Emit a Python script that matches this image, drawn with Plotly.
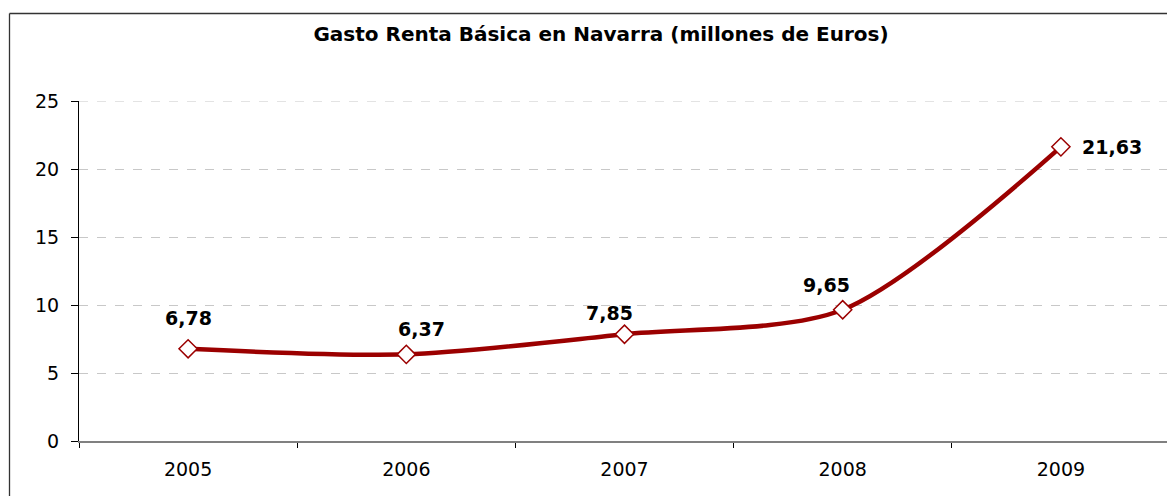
import plotly.graph_objects as go

years = ["2005", "2006", "2007", "2008", "2009"]
gasto = [6.78, 6.37, 7.85, 9.65, 21.63]
labels = ["6,78", "6,37", "7,85", "9,65", "21,63"]
y_ticks = [0, 5, 10, 15, 20, 25]

# label offsets (pixels) relative to each point
label_shift_x = [0, 15, -15, -16, 51]
label_shift_y = [31, 25, 21, 25, 0]

RED = "#9B0000"
FONT = "DejaVu Sans"

# page body adds an 8px margin; figure is sized/placed to compensate
W, H = 1167, 488
L, T = 71, 93
PW, PH = 1091, 340

fig = go.Figure()
fig.add_trace(go.Scatter(
    x=years, y=gasto, mode="lines+markers",
    line=dict(color=RED, width=4.5, shape="spline", smoothing=0.8),
    marker=dict(symbol="diamond", size=14, color="white",
                line=dict(color=RED, width=1.5)),
    showlegend=False, hoverinfo="skip",
))

for i, (v, t, dx, dy) in enumerate(zip(gasto, labels, label_shift_x, label_shift_y)):
    fig.add_annotation(x=i, y=v, xref="x", yref="y",
                       text="<b>%s</b>" % t, showarrow=False,
                       xshift=dx, yshift=dy,
                       font=dict(family=FONT, size=19, color="black"))

# top gridline (plotly omits the one on the plot edge)
fig.add_shape(type="line", xref="paper", yref="y", x0=0, x1=1,
              y0=y_ticks[-1], y1=y_ticks[-1],
              line=dict(color="#C8C8C8", width=1, dash="dash"), layer="below")

# outer frame: only left and top edges are visible in the reference
fx0 = (1.5 - L) / PW
fy1 = (T + PH - 5.5) / PH
fig.add_shape(type="line", xref="paper", yref="paper",
              x0=fx0, x1=fx0, y0=(T + PH - H) / PH, y1=fy1,
              line=dict(color="#333333", width=1.3))
fig.add_shape(type="line", xref="paper", yref="paper",
              x0=fx0, x1=(W - L) / PW, y0=fy1, y1=fy1,
              line=dict(color="#333333", width=1.3))

fig.update_layout(
    width=W, height=H,
    margin=dict(l=L, r=W - L - PW, t=T, b=H - T - PH),
    paper_bgcolor="white", plot_bgcolor="white",
    title=dict(text="<b>Gasto Renta Básica en Navarra (millones de Euros)</b>",
               x=593 / W, xanchor="center", xref="container",
               y=1 - 26 / H, yanchor="middle", yref="container",
               font=dict(family=FONT, size=20, color="black")),
    font=dict(family=FONT, size=19, color="black"),
)
fig.update_xaxes(
    type="category", range=[-0.5, 4.5],
    showgrid=False, showline=True, linecolor="#808080", linewidth=1.5,
    ticks="outside", tickson="boundaries", ticklen=5, tickcolor="black",
    tickfont=dict(family=FONT, size=19), ticklabelstandoff=10,
    zeroline=False,
)
fig.update_yaxes(
    range=[0, 25], tickvals=y_ticks,
    showgrid=True, gridcolor="#C8C8C8", griddash="dash", gridwidth=1,
    showline=True, linecolor="black", linewidth=1,
    ticks="outside", ticklen=7, tickcolor="black",
    tickfont=dict(family=FONT, size=19), ticklabelstandoff=8,
    zeroline=False,
)

fig.write_html("out.html")
